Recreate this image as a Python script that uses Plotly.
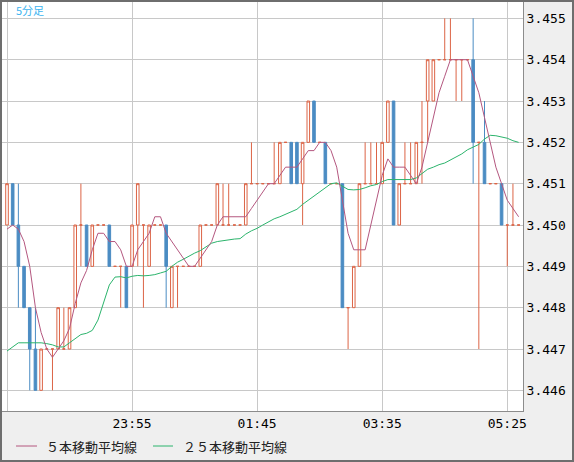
import pandas as pd
import plotly.graph_objects as go

# 5分足 candles, 22:05 -> 05:35
START = "2024-01-10 22:05"

opens = [3.450, 3.451, 3.450, 3.449, 3.448, 3.447, 3.446, 3.447, 3.447, 3.447,
         3.447, 3.447, 3.448, 3.450, 3.450, 3.449, 3.450, 3.450, 3.450, 3.449,
         3.449, 3.449, 3.449, 3.450, 3.450, 3.449, 3.450, 3.450, 3.450, 3.448,
         3.449, 3.449, 3.449, 3.449, 3.449, 3.450, 3.450, 3.450, 3.450, 3.450,
         3.450, 3.450, 3.450, 3.451, 3.451, 3.451, 3.451, 3.451, 3.451, 3.452,
         3.452, 3.452, 3.451, 3.452, 3.453, 3.452, 3.452, 3.451, 3.451, 3.451,
         3.448, 3.448, 3.449, 3.451, 3.451, 3.451, 3.451, 3.452, 3.453, 3.450,
         3.451, 3.451, 3.451, 3.452, 3.453, 3.453, 3.454, 3.454, 3.454, 3.454,
         3.454, 3.454, 3.454, 3.452, 3.452, 3.451, 3.451, 3.451, 3.450, 3.450,
         3.450]
highs = [3.451, 3.451, 3.451, 3.449, 3.448, 3.448, 3.447, 3.447, 3.447, 3.448,
         3.448, 3.448, 3.450, 3.451, 3.450, 3.450, 3.450, 3.450, 3.450, 3.449,
         3.449, 3.449, 3.450, 3.451, 3.450, 3.450, 3.450, 3.450, 3.450, 3.449,
         3.449, 3.449, 3.449, 3.449, 3.450, 3.450, 3.450, 3.451, 3.451, 3.451,
         3.450, 3.450, 3.451, 3.452, 3.451, 3.451, 3.451, 3.452, 3.452, 3.452,
         3.452, 3.452, 3.452, 3.453, 3.453, 3.452, 3.452, 3.451, 3.451, 3.451,
         3.448, 3.449, 3.451, 3.452, 3.452, 3.452, 3.452, 3.453, 3.453, 3.451,
         3.452, 3.452, 3.452, 3.453, 3.454, 3.454, 3.454, 3.455, 3.455, 3.454,
         3.454, 3.454, 3.455, 3.452, 3.453, 3.451, 3.451, 3.451, 3.450, 3.451,
         3.450]
lows = [3.450, 3.450, 3.448, 3.448, 3.446, 3.446, 3.446, 3.447, 3.446, 3.447,
        3.447, 3.447, 3.448, 3.449, 3.449, 3.449, 3.450, 3.450, 3.449, 3.449,
        3.448, 3.448, 3.449, 3.449, 3.448, 3.449, 3.450, 3.450, 3.448, 3.448,
        3.448, 3.449, 3.449, 3.449, 3.449, 3.450, 3.450, 3.450, 3.450, 3.450,
        3.450, 3.450, 3.450, 3.451, 3.451, 3.451, 3.451, 3.451, 3.451, 3.452,
        3.451, 3.451, 3.450, 3.452, 3.452, 3.452, 3.451, 3.451, 3.451, 3.448,
        3.447, 3.448, 3.449, 3.451, 3.451, 3.451, 3.451, 3.452, 3.450, 3.450,
        3.451, 3.451, 3.451, 3.451, 3.452, 3.453, 3.454, 3.454, 3.454, 3.453,
        3.453, 3.454, 3.451, 3.447, 3.451, 3.451, 3.451, 3.450, 3.449, 3.450,
        3.450]
closes = [3.451, 3.450, 3.449, 3.448, 3.447, 3.446, 3.447, 3.447, 3.447, 3.448,
          3.447, 3.448, 3.450, 3.450, 3.449, 3.450, 3.450, 3.450, 3.449, 3.449,
          3.449, 3.448, 3.450, 3.451, 3.450, 3.450, 3.450, 3.450, 3.449, 3.449,
          3.449, 3.449, 3.449, 3.449, 3.450, 3.450, 3.450, 3.451, 3.450, 3.450,
          3.450, 3.450, 3.451, 3.451, 3.451, 3.451, 3.451, 3.451, 3.452, 3.452,
          3.451, 3.451, 3.452, 3.453, 3.452, 3.452, 3.451, 3.451, 3.451, 3.448,
          3.448, 3.449, 3.451, 3.451, 3.451, 3.451, 3.452, 3.453, 3.450, 3.451,
          3.451, 3.451, 3.452, 3.452, 3.454, 3.454, 3.454, 3.454, 3.454, 3.454,
          3.454, 3.454, 3.452, 3.452, 3.451, 3.451, 3.451, 3.450, 3.450, 3.450,
          3.450]

ma5 = [3.4499, 3.4500, 3.4499, 3.4496, 3.4490, 3.4480, 3.4474, 3.4470, 3.4468, 3.4470,
       3.4472, 3.4475, 3.4481, 3.4486, 3.4489, 3.4494, 3.4498, 3.4498, 3.4496, 3.4496,
       3.4494, 3.4490, 3.4490, 3.4494, 3.4496, 3.4498, 3.4502, 3.4502, 3.4498, 3.4496,
       3.4494, 3.4492, 3.4490, 3.4490, 3.4492, 3.4494, 3.4496, 3.4500, 3.4502, 3.4502,
       3.4502, 3.4502, 3.4502, 3.4504, 3.4506, 3.4508, 3.4510, 3.4510, 3.4512, 3.4514,
       3.4514, 3.4514, 3.4516, 3.4518, 3.4518, 3.4520, 3.4520, 3.4518, 3.4514, 3.4506,
       3.4498, 3.4494, 3.4494, 3.4494, 3.4500, 3.4506, 3.4512, 3.4516, 3.4514, 3.4514,
       3.4514, 3.4512, 3.4510, 3.4514, 3.4520, 3.4526, 3.4532, 3.4536, 3.4540, 3.4540,
       3.4540, 3.4540, 3.4536, 3.4532, 3.4526, 3.4520, 3.4514, 3.4510, 3.4506, 3.4504,
       3.4502]
ma25 = [3.44695, 3.44705, 3.44715, 3.44715, 3.44715, 3.44715, 3.44715, 3.44713, 3.44710, 3.44705,
        3.44705, 3.44715, 3.44725, 3.44735, 3.44738, 3.44745, 3.44770, 3.44810, 3.44855, 3.44874,
        3.44875, 3.44872, 3.44876, 3.44878, 3.44877, 3.44878, 3.44880, 3.44884, 3.44888, 3.44900,
        3.44910, 3.44917, 3.44925, 3.44932, 3.44938, 3.44948, 3.44956, 3.44960, 3.44962, 3.44965,
        3.44966, 3.44967, 3.44978, 3.44986, 3.44992, 3.45000, 3.45008, 3.45015, 3.45020, 3.45026,
        3.45032, 3.45038, 3.45050, 3.45060, 3.45072, 3.45082, 3.45090, 3.45100, 3.45102, 3.45093,
        3.45086, 3.45085, 3.45086, 3.45090, 3.45095, 3.45098, 3.45105, 3.45110, 3.45110, 3.45110,
        3.45110, 3.45110, 3.45114, 3.45125, 3.45135, 3.45140, 3.45146, 3.45150, 3.45157, 3.45164,
        3.45172, 3.45182, 3.45188, 3.45195, 3.45208, 3.45217, 3.45216, 3.45213, 3.45210, 3.45204,
        3.45200]

tick_times = ["2024-01-10 22:05", "2024-01-10 23:55", "2024-01-11 01:45",
              "2024-01-11 03:35", "2024-01-11 05:25"]
tick_labels = ["", "23:55", "01:45", "03:35", "05:25"]
price_ticks = [3.446, 3.447, 3.448, 3.449, 3.450, 3.451, 3.452, 3.453, 3.454, 3.455]

RED = "#dc6446"
BLUE = "#4b8cc3"
PURPLE = "#b4577f"
GREEN = "#2bb46c"

times = pd.date_range(START, periods=len(closes), freq="5min")
df = pd.DataFrame({"open": opens, "high": highs, "low": lows, "close": closes}, index=times)
down = df[df["close"] < df["open"]]
up = df[df["close"] >= df["open"]]

fig = go.Figure()
fig.add_trace(go.Candlestick(
    x=up.index, open=up["open"], high=up["high"], low=up["low"], close=up["close"],
    increasing=dict(line=dict(color=RED, width=1), fillcolor="white"),
    decreasing=dict(line=dict(color=RED, width=1), fillcolor="white"),
    showlegend=False, hoverinfo="skip"))
fig.add_trace(go.Candlestick(
    x=down.index, open=down["open"], high=down["high"], low=down["low"], close=down["close"],
    increasing=dict(line=dict(color=BLUE, width=1), fillcolor=BLUE),
    decreasing=dict(line=dict(color=BLUE, width=1), fillcolor=BLUE),
    showlegend=False, hoverinfo="skip"))
fig.add_trace(go.Scatter(x=times, y=ma25, mode="lines", line=dict(color=GREEN, width=1),
                         showlegend=False, hoverinfo="skip"))
fig.add_trace(go.Scatter(x=times, y=ma5, mode="lines", line=dict(color=PURPLE, width=1),
                         showlegend=False, hoverinfo="skip"))

# pixel helpers for the plot box (x 2..523, y 1..411)
W, H = 521, 410
def px(x):
    return (x - 2) / W
def py(y):
    return (411 - y) / H

tick_font = dict(family="DejaVu Sans Mono", size=13, color="#000000")
cjk = "Noto Sans CJK JP"

fig.update_layout(
    width=574, height=462,
    margin=dict(l=2, r=51, t=1, b=51),
    paper_bgcolor="#efefef", plot_bgcolor="white",
    boxgap=0.35,
    xaxis=dict(type="date", range=["2024-01-10 22:00:36", "2024-01-11 05:38:51"],
               tickvals=tick_times, ticktext=tick_labels, tickfont=tick_font,
               showgrid=True, gridcolor="#c8c8c8", gridwidth=1, zeroline=False,
               showline=True, linecolor="#8c8c8c", linewidth=1, ticks="",
               rangeslider=dict(visible=False)),
    yaxis=dict(side="right", range=[3.4455, 3.45542], tickvals=price_ticks,
               ticktext=[f"{p:.3f}" for p in price_ticks], tickfont=tick_font,
               showgrid=True, gridcolor="#c8c8c8", gridwidth=1, zeroline=False,
               showline=True, linecolor="#8c8c8c", linewidth=1, ticks=""),
    shapes=[
        dict(type="rect", xref="paper", yref="paper", x0=px(1), x1=px(573), y0=py(461), y1=py(1),
             line=dict(color="#6e6e6e", width=2)),
        dict(type="line", xref="paper", yref="paper", x0=px(16), x1=px(37), y0=py(446), y1=py(446),
             line=dict(color=PURPLE, width=1)),
        dict(type="line", xref="paper", yref="paper", x0=px(153), x1=px(173), y0=py(446), y1=py(446),
             line=dict(color=GREEN, width=1)),
    ],
    annotations=[
        dict(text="5分足", xref="paper", yref="paper", x=px(14), y=py(10), xanchor="left",
             yanchor="middle", showarrow=False, font=dict(family=cjk, size=11, color="#3cb4f0")),
        dict(text="５本移動平均線", xref="paper", yref="paper", x=px(44), y=py(446), xanchor="left",
             yanchor="middle", showarrow=False, font=dict(family=cjk, size=13, color="#222222")),
        dict(text="２５本移動平均線", xref="paper", yref="paper", x=px(181), y=py(446), xanchor="left",
             yanchor="middle", showarrow=False, font=dict(family=cjk, size=13, color="#222222")),
    ],
)

# the page's default 8px body margin would shift the whole chart
fig.write_html("out.html", config={"displayModeBar": False},
               post_script="document.body.style.margin='0';")
